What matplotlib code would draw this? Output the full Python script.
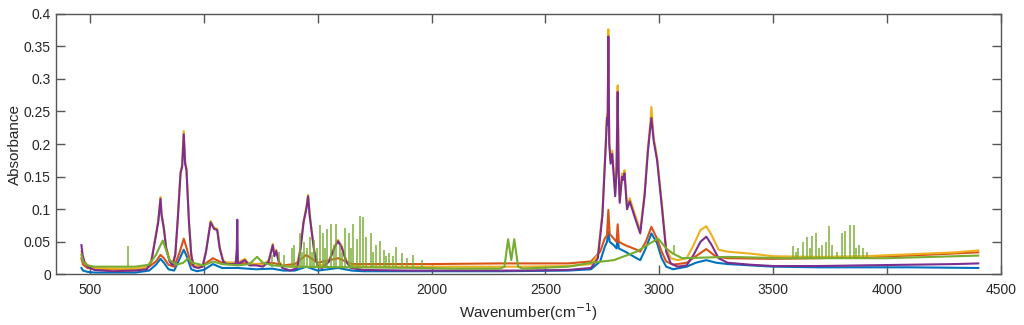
import matplotlib
matplotlib.use("Agg")
import matplotlib.pyplot as plt
from matplotlib.ticker import FuncFormatter, MultipleLocator

plt.rcParams['font.family'] = ['Liberation Sans', 'DejaVu Sans']

# ---------------- data ----------------
# shared wavenumber grid for the two strong spectra (purple / yellow)
wn_strong = [463, 468, 475, 490, 520, 600, 700, 750, 770, 790, 800, 810, 815, 824, 835, 850,
             863, 875, 885, 898, 905, 912, 918, 924, 935, 945, 955, 975, 995, 1010, 1030, 1045,
             1059, 1070, 1085, 1100, 1140, 1145, 1147, 1150, 1160, 1180, 1200, 1230, 1260, 1285,
             1303, 1310, 1318, 1330, 1345, 1380, 1410, 1425, 1438, 1450, 1458, 1465, 1471, 1485,
             1500, 1520, 1550, 1575, 1589, 1605, 1625, 1645, 1700, 1900, 2100, 2300, 2336, 2363,
             2400, 2600, 2700, 2730, 2750, 2765, 2770, 2773, 2776, 2780, 2786, 2793, 2800, 2806,
             2812, 2817, 2821, 2826, 2836, 2841, 2847, 2858, 2870, 2890, 2916, 2935, 2950, 2960,
             2965, 2975, 2990, 3012, 3030, 3050, 3080, 3120, 3150, 3180, 3206, 3230, 3260, 3300,
             3400, 3500, 3700, 3900, 4100, 4300, 4400]

purple = [0.045, 0.03, 0.02, 0.012, 0.007, 0.005, 0.006, 0.008, 0.02, 0.06, 0.08, 0.116, 0.09, 0.072,
          0.04, 0.02, 0.014, 0.03, 0.08, 0.155, 0.165, 0.215, 0.17, 0.16, 0.08, 0.03, 0.012, 0.01,
          0.012, 0.035, 0.08, 0.07, 0.068, 0.04, 0.02, 0.016, 0.016, 0.04, 0.084, 0.016, 0.018,
          0.022, 0.014, 0.014, 0.012, 0.02, 0.045, 0.028, 0.036, 0.018, 0.01, 0.006, 0.01, 0.04,
          0.08, 0.1, 0.12, 0.09, 0.073, 0.035, 0.012, 0.01, 0.02, 0.042, 0.051, 0.042, 0.02, 0.01,
          0.007, 0.006, 0.006, 0.006, 0.006, 0.006, 0.006, 0.007, 0.01, 0.025, 0.09, 0.2, 0.24,
          0.23, 0.365, 0.2, 0.17, 0.185, 0.15, 0.12, 0.16, 0.28, 0.16, 0.11, 0.15, 0.145, 0.155,
          0.1, 0.112, 0.09, 0.063, 0.12, 0.19, 0.225, 0.24, 0.205, 0.175, 0.1, 0.035, 0.017, 0.012,
          0.014, 0.03, 0.05, 0.058, 0.045, 0.025, 0.018, 0.015, 0.013, 0.013, 0.014, 0.015, 0.016,
          0.017]

yellow = [0.035, 0.028, 0.02, 0.014, 0.01, 0.009, 0.009, 0.011, 0.022, 0.062, 0.083, 0.119, 0.093,
          0.075, 0.042, 0.022, 0.016, 0.032, 0.082, 0.158, 0.168, 0.22, 0.174, 0.163, 0.082, 0.032,
          0.014, 0.012, 0.014, 0.037, 0.082, 0.072, 0.07, 0.042, 0.022, 0.018, 0.018, 0.02, 0.022,
          0.018, 0.02, 0.024, 0.016, 0.016, 0.015, 0.022, 0.047, 0.03, 0.038, 0.02, 0.014, 0.012,
          0.014, 0.042, 0.082, 0.102, 0.122, 0.092, 0.075, 0.037, 0.016, 0.014, 0.022, 0.044, 0.053,
          0.044, 0.022, 0.014, 0.012, 0.012, 0.012, 0.012, 0.012, 0.012, 0.012, 0.013, 0.016, 0.03,
          0.095, 0.205, 0.245, 0.235, 0.376, 0.205, 0.175, 0.19, 0.155, 0.125, 0.165, 0.29, 0.165,
          0.115, 0.155, 0.15, 0.16, 0.105, 0.117, 0.095, 0.067, 0.125, 0.195, 0.23, 0.257, 0.21,
          0.18, 0.105, 0.04, 0.025, 0.022, 0.025, 0.045, 0.068, 0.074, 0.06, 0.038, 0.035, 0.032,
          0.028, 0.027, 0.028, 0.031, 0.034, 0.037]

# shared grid for the two weaker spectra (blue / orange)
wn_weak = [463, 470, 490, 520, 700, 760, 790, 810, 825, 845, 870, 895, 912, 925, 945, 970, 1000,
           1040, 1080, 1150, 1230, 1300, 1350, 1400, 1450, 1500, 1590, 1650, 1700, 2000, 2300,
           2600, 2700, 2740, 2760, 2770, 2776, 2782, 2800, 2812, 2817, 2822, 2850, 2900, 2916,
           2940, 2965, 2990, 3010, 3030, 3060, 3120, 3160, 3206, 3250, 3300, 3500, 3700, 3900,
           4100, 4400]

orange = [0.025, 0.015, 0.01, 0.008, 0.008, 0.012, 0.02, 0.03, 0.025, 0.015, 0.012, 0.035, 0.055,
          0.04, 0.015, 0.012, 0.015, 0.025, 0.018, 0.018, 0.016, 0.018, 0.014, 0.016, 0.03, 0.018,
          0.025, 0.016, 0.016, 0.016, 0.017, 0.017, 0.02, 0.035, 0.055, 0.06, 0.099, 0.062, 0.055,
          0.05, 0.077, 0.05, 0.045, 0.038, 0.035, 0.05, 0.073, 0.055, 0.035, 0.02, 0.015, 0.018,
          0.028, 0.039, 0.027, 0.025, 0.024, 0.025, 0.027, 0.029, 0.034]

blue = [0.01, 0.006, 0.004, 0.003, 0.003, 0.006, 0.015, 0.024, 0.018, 0.008, 0.006, 0.025, 0.038,
        0.028, 0.008, 0.005, 0.007, 0.016, 0.01, 0.01, 0.008, 0.009, 0.006, 0.006, 0.012, 0.006,
        0.01, 0.006, 0.005, 0.005, 0.005, 0.006, 0.008, 0.02, 0.042, 0.05, 0.065, 0.05, 0.045,
        0.04, 0.058, 0.04, 0.035, 0.025, 0.022, 0.04, 0.063, 0.048, 0.025, 0.012, 0.008, 0.012,
        0.018, 0.022, 0.018, 0.016, 0.012, 0.011, 0.011, 0.011, 0.01]

# green spectrum: smooth part
wn_green = [463, 470, 490, 520, 660, 700, 760, 790, 810, 820, 830, 850, 880, 910, 931, 950, 1000,
            1040, 1080, 1150, 1200, 1234, 1260, 1300, 1380, 1950, 2100, 2300, 2320, 2336, 2350,
            2363, 2380, 2400, 2600, 2700, 2800, 2900, 2960, 2995, 3030, 3060, 3100, 3200, 3300,
            3550, 4000, 4200, 4400]
green = [0.03, 0.02, 0.014, 0.012, 0.012, 0.012, 0.015, 0.03, 0.045, 0.052, 0.042, 0.022, 0.015,
         0.018, 0.025, 0.018, 0.014, 0.02, 0.016, 0.014, 0.016, 0.027, 0.018, 0.014, 0.012, 0.01,
         0.009, 0.009, 0.012, 0.054, 0.022, 0.054, 0.012, 0.009, 0.012, 0.018, 0.022, 0.035,
         0.048, 0.055, 0.04, 0.032, 0.025, 0.026, 0.027, 0.025, 0.025, 0.027, 0.029]
# green sharp (water-vapour) lines: position, top, local base
green_spike_wn = [668, 1300, 1330, 1352, 1388, 1398, 1421, 1430, 1439, 1452, 1465, 1476, 1486,
                  1498, 1509, 1524, 1533, 1542, 1559, 1570, 1580, 1597, 1608, 1618, 1637, 1647,
                  1656, 1673, 1688, 1700, 1714, 1732, 1743, 1754, 1773, 1790, 1800, 1812, 1830,
                  1846, 1871, 1890, 1920, 1960, 3064, 3588, 3600, 3610, 3630, 3648, 3660, 3671,
                  3689, 3700, 3714, 3732, 3746, 3760, 3780, 3800, 3816, 3838, 3853, 3865, 3875,
                  3896, 3910]
green_spike_top = [0.044, 0.03, 0.035, 0.03, 0.04, 0.045, 0.063, 0.035, 0.05, 0.04, 0.058, 0.035,
                   0.053, 0.04, 0.076, 0.063, 0.04, 0.069, 0.078, 0.045, 0.078, 0.045, 0.035,
                   0.071, 0.063, 0.04, 0.078, 0.055, 0.089, 0.088, 0.058, 0.063, 0.035, 0.045,
                   0.051, 0.038, 0.028, 0.033, 0.028, 0.042, 0.033, 0.025, 0.03, 0.022, 0.045,
                   0.043, 0.035, 0.04, 0.05, 0.058, 0.04, 0.059, 0.063, 0.04, 0.045, 0.05, 0.074,
                   0.045, 0.035, 0.063, 0.067, 0.076, 0.076, 0.04, 0.045, 0.04, 0.035]
green_spike_base = [0.012] * 44 + [0.03] + [0.026] * 22

colors = ['#0072BD', '#D95319', '#EDB120', '#7E2F8E', '#77AC30']

# ---------------- figure ----------------
fig = plt.figure(figsize=(10.24, 3.25), dpi=100)
ax = fig.add_axes([0.0544, 0.1554, 0.9232, 0.8026])

lw = 1.5
ax.plot(wn_weak, blue, color=colors[0], lw=lw)
ax.plot(wn_weak, orange, color=colors[1], lw=lw)
ax.plot(wn_strong, yellow, color=colors[2], lw=lw)
ax.plot(wn_strong, purple, color=colors[3], lw=lw)
ax.plot(wn_green, green, color=colors[4], lw=lw)
ax.vlines(green_spike_wn, green_spike_base, green_spike_top, color=colors[4], lw=1.1, alpha=0.95)

ax.set_xlim(350, 4500)
ax.set_ylim(0, 0.4)
ax.yaxis.set_major_locator(MultipleLocator(0.05))
ax.yaxis.set_major_formatter(FuncFormatter(lambda v, p: f"{v:g}"))
ax.set_xticks(range(500, 4501, 500))

axc = '#262626'
for s in ax.spines.values():
    s.set_color('#555555')
    s.set_linewidth(1.0)
ax.tick_params(direction='in', length=6.5, width=1.0, color='#555555',
               labelsize=10, labelcolor=axc, top=True, right=True)
ax.tick_params(axis='x', pad=6)
ax.tick_params(axis='y', pad=3.5)

ax.set_xlabel('Wavenumber(cm$^{-1}$)', fontsize=11, color=axc, labelpad=3)
ax.set_ylabel('Absorbance', fontsize=11, color=axc, labelpad=1)

fig.savefig('out.png', dpi=100)
